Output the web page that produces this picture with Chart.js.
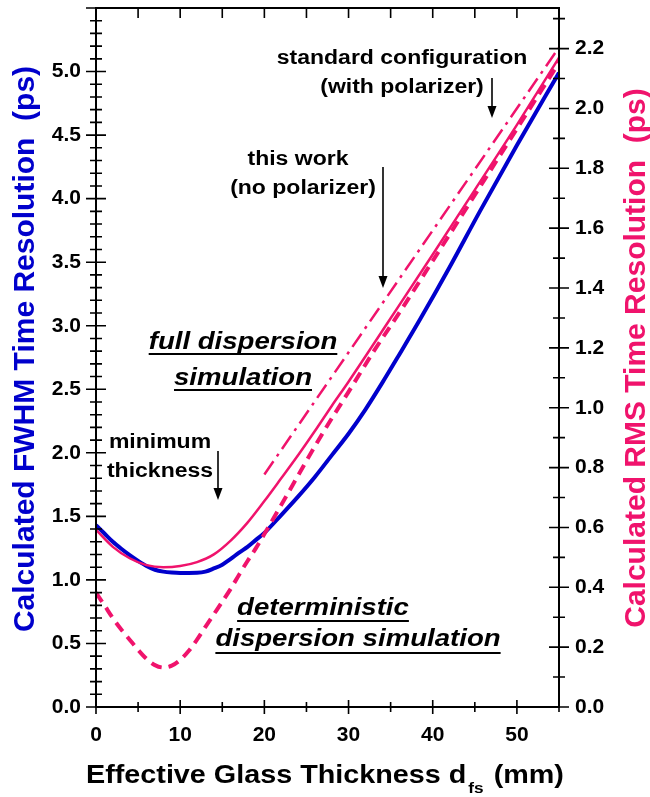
<!DOCTYPE html>
<html><head><meta charset="utf-8">
<script src="https://cdn.jsdelivr.net/npm/chart.js@4/dist/chart.umd.min.js"></script>
<style>html,body{margin:0;padding:0;background:#fff;}canvas{display:block;}</style>
</head><body>
<canvas id="c" width="650" height="797"></canvas>
<script>
// ---- data ----
const FWHM_PER_RMS = 2.3548;
const xTicks = [0, 10, 20, 30, 40, 50];
const yLeftTicks = [0, 0.5, 1.0, 1.5, 2.0, 2.5, 3.0, 3.5, 4.0, 4.5, 5.0];
const yRightTicks = [0, 0.2, 0.4, 0.6, 0.8, 1.0, 1.2, 1.4, 1.6, 1.8, 2.0, 2.2];

// blue: FWHM, full dispersion simulation (left axis, ps)
const blueX = [0,1,2,3,4,5,6,7,8,9,10,11,12,13,14,15,16,17,18,19,20,22,24,26,28,30,32,34,36,38.5,42,45.6,50,55];
const blueY = [1.43,1.365,1.30,1.245,1.195,1.15,1.11,1.08,1.065,1.058,1.055,1.055,1.056,1.065,1.09,1.12,1.165,1.215,1.26,1.315,1.37,1.51,1.655,1.81,1.98,2.15,2.34,2.55,2.77,3.05,3.46,3.90,4.42,4.99];

// pink solid: RMS, full dispersion simulation (right axis, ps)
const rmsFullX = [0,2,4,6,8,10,12,14,16,18,20,22,24,26,28,30,35,40,45,50,55];
const rmsFullY = [0.592,0.535,0.497,0.474,0.467,0.471,0.484,0.510,0.556,0.616,0.688,0.764,0.841,0.922,1.006,1.087,1.299,1.512,1.728,1.945,2.170];

// pink dashed: RMS, deterministic dispersion simulation (right axis, ps)
const rmsDetX = [0,1,2,3,4,5,6,7,8,9,10,11,12,13,14,15,16,17,18,19,20,22,24,26,28,30,33,36,40,45,50,55];
const rmsDetY = [0.382,0.340,0.297,0.259,0.225,0.191,0.161,0.140,0.132,0.138,0.157,0.187,0.225,0.268,0.310,0.352,0.395,0.442,0.488,0.531,0.578,0.675,0.773,0.871,0.964,1.053,1.189,1.316,1.491,1.711,1.932,2.153];

// pink dash-dot: standard configuration (right axis, ps)
const rmsStdX = [20, 55];
const rmsStdY = [0.777, 2.204];

const BLUE = '#0000cc';
const PINK = '#f0136c';

function pts(xs, ys){ return xs.map((v,i)=>({x:v, y:ys[i]})); }

const FONT = '"Liberation Sans", Arial, sans-serif';
const SX = 1.15;

function sText(ctx, t, x, y, align, font, color){
  ctx.save();
  ctx.font = font; ctx.fillStyle = color || '#000';
  ctx.textBaseline = 'alphabetic';
  ctx.translate(x, y); ctx.scale(SX, 1);
  ctx.textAlign = align;
  ctx.fillText(t, 0, 0);
  const w = ctx.measureText(t).width * SX;
  ctx.restore();
  return w;
}
function underlined(ctx, t, cx, y, uy, font){
  const w = sText(ctx, t, cx, y, 'center', font);
  ctx.save(); ctx.strokeStyle='#000'; ctx.lineWidth=2;
  ctx.beginPath(); ctx.moveTo(cx - w/2, uy); ctx.lineTo(cx + w/2, uy); ctx.stroke(); ctx.restore();
}
function arrow(ctx, x, y0, y1){
  ctx.save(); ctx.strokeStyle='#000'; ctx.fillStyle='#000'; ctx.lineWidth=1.6;
  ctx.beginPath(); ctx.moveTo(x, y0); ctx.lineTo(x, y1-10); ctx.stroke();
  ctx.beginPath(); ctx.moveTo(x-4.5, y1-12); ctx.lineTo(x+4.5, y1-12); ctx.lineTo(x, y1); ctx.closePath(); ctx.fill();
  ctx.restore();
}

const decor = {
  id: 'decor',
  afterDraw(chart){
    const {ctx, chartArea:a} = chart;
    const x = chart.scales.x, y = chart.scales.y, y2 = chart.scales.y2;
    ctx.save();
    ctx.strokeStyle = '#000';
    ctx.lineWidth = 1.6;
    ctx.beginPath();
    for (let i = 0; i <= 55; i++){
      const py = y.getPixelForValue(i/10); const L = (i % 5 === 0) ? 10 : 6;
      ctx.moveTo(a.left - L, py); ctx.lineTo(a.left + L, py);
    }
    for (let i = 0; i <= 23; i++){
      const py = y2.getPixelForValue(i/10); const L = (i % 2 === 0) ? 10 : 6;
      ctx.moveTo(a.right - L, py); ctx.lineTo(a.right + L, py);
    }
    for (let v = 0; v <= 55; v += 5){
      const px = x.getPixelForValue(v); const L = (v % 10 === 0) ? 7 : 5;
      ctx.moveTo(px, a.bottom - L); ctx.lineTo(px, a.bottom + L);
      ctx.moveTo(px, a.top); ctx.lineTo(px, a.top + 10);
    }
    ctx.stroke();
    ctx.lineWidth = 2;
    ctx.strokeRect(a.left, a.top, a.right - a.left, a.bottom - a.top);
    ctx.restore();

    // axis titles
    ctx.save();
    ctx.font = 'bold 30px ' + FONT; ctx.fillStyle = BLUE; ctx.textAlign = 'center'; ctx.textBaseline = 'alphabetic';
    ctx.translate(34, 349); ctx.rotate(-Math.PI/2);
    ctx.fillText('Calculated FWHM Time Resolution  (ps)', 0, 0);
    ctx.restore();
    ctx.save();
    ctx.font = 'bold 30px ' + FONT; ctx.fillStyle = PINK; ctx.textAlign = 'center'; ctx.textBaseline = 'alphabetic';
    ctx.translate(645, 358); ctx.rotate(-Math.PI/2);
    ctx.fillText('Calculated RMS Time Resolution  (ps)', 0, 0);
    ctx.restore();

    // x title with subscript
    const tf = 'bold 25px ' + FONT;
    let cx = 86;
    cx += sText(ctx, 'Effective Glass Thickness d', cx, 783, 'left', tf);
    cx += 2;
    cx += sText(ctx, 'fs', cx, 793, 'left', 'bold 15px ' + FONT);
    sText(ctx, ' (mm)', cx + 2, 783, 'left', tf);

    // annotations
    const af = 'bold 20px ' + FONT;
    sText(ctx, 'standard configuration', 402, 64, 'center', af);
    sText(ctx, '(with polarizer)', 402, 93, 'center', af);
    arrow(ctx, 492, 78, 118);
    sText(ctx, 'this work', 298, 165, 'center', af);
    sText(ctx, '(no polarizer)', 303, 194, 'center', af);
    arrow(ctx, 383, 167, 288);
    sText(ctx, 'minimum', 160, 448, 'center', af);
    sText(ctx, 'thickness', 160, 477, 'center', af);
    arrow(ctx, 218, 451, 500);
    const itf = 'italic bold 24px ' + FONT;
    underlined(ctx, 'full dispersion', 243, 349, 354, itf);
    underlined(ctx, 'simulation', 243, 385, 390, itf);
    underlined(ctx, 'deterministic', 323, 615, 621, itf);
    underlined(ctx, 'dispersion simulation', 358, 646, 653, itf);
  }
};

const tickFont = {family: FONT, size: 21, weight: 'bold'};
function noPadV(s){ s.paddingTop = 0; s.paddingBottom = 0; }
function noPadH(s){ s.paddingLeft = 0; s.paddingRight = 0; }

new Chart(document.getElementById('c'), {
  type: 'line',
  data: {
    datasets: [
      {label:'RMS full (std config)', data: pts(rmsStdX, rmsStdY), yAxisID:'y2', borderColor: PINK, borderWidth: 2.5, borderDash:[16,6,3,6], pointRadius:0, fill:false},
      {label:'RMS full', data: pts(rmsFullX, rmsFullY), yAxisID:'y2', borderColor: PINK, borderWidth: 2.5, pointRadius:0, cubicInterpolationMode:'monotone', fill:false},
      {label:'RMS deterministic', data: pts(rmsDetX, rmsDetY), yAxisID:'y2', borderColor: PINK, borderWidth: 4, borderDash:[11,7], pointRadius:0, cubicInterpolationMode:'monotone', fill:false},
      {label:'FWHM full', data: pts(blueX, blueY), yAxisID:'y', borderColor: BLUE, borderWidth: 4, pointRadius:0, cubicInterpolationMode:'monotone', fill:false}
    ]
  },
  options: {
    responsive: false, animation: false, devicePixelRatio: 1,
    layout: {padding: {top: 8, left: 0, right: 0, bottom: 0}},
    plugins: {legend:{display:false}, tooltip:{enabled:false}},
    scales: {
      x: {type:'linear', position:'bottom', min:0, max:55,
          afterBuildTicks: s => { s.ticks = xTicks.map(v => ({value:v})); },
          afterFit: s => { s.height = 90; noPadH(s); },
          grid:{display:false, drawTicks:false}, border:{display:false},
          ticks:{font:tickFont, color:'#000', padding:16, autoSkip:false, maxRotation:0, callback: v => String(v)}},
      y: {type:'linear', position:'left', min:0, max:5.5,
          afterBuildTicks: s => { s.ticks = yLeftTicks.map(v => ({value:v})); },
          afterFit: s => { s.width = 96; noPadV(s); },
          grid:{display:false, drawTicks:false}, border:{display:false},
          ticks:{font:tickFont, color:'#000', padding:15, autoSkip:false, callback: v => v.toFixed(1)}},
      y2: {type:'linear', position:'right', min:0, max:5.5/FWHM_PER_RMS,
          afterBuildTicks: s => { s.ticks = yRightTicks.map(v => ({value:v})); },
          afterFit: s => { s.width = 91; noPadV(s); },
          grid:{display:false, drawTicks:false}, border:{display:false},
          ticks:{font:tickFont, color:'#000', padding:16, autoSkip:false, callback: v => v.toFixed(1)}}
    }
  },
  plugins: [decor]
});
</script>
</body></html>
